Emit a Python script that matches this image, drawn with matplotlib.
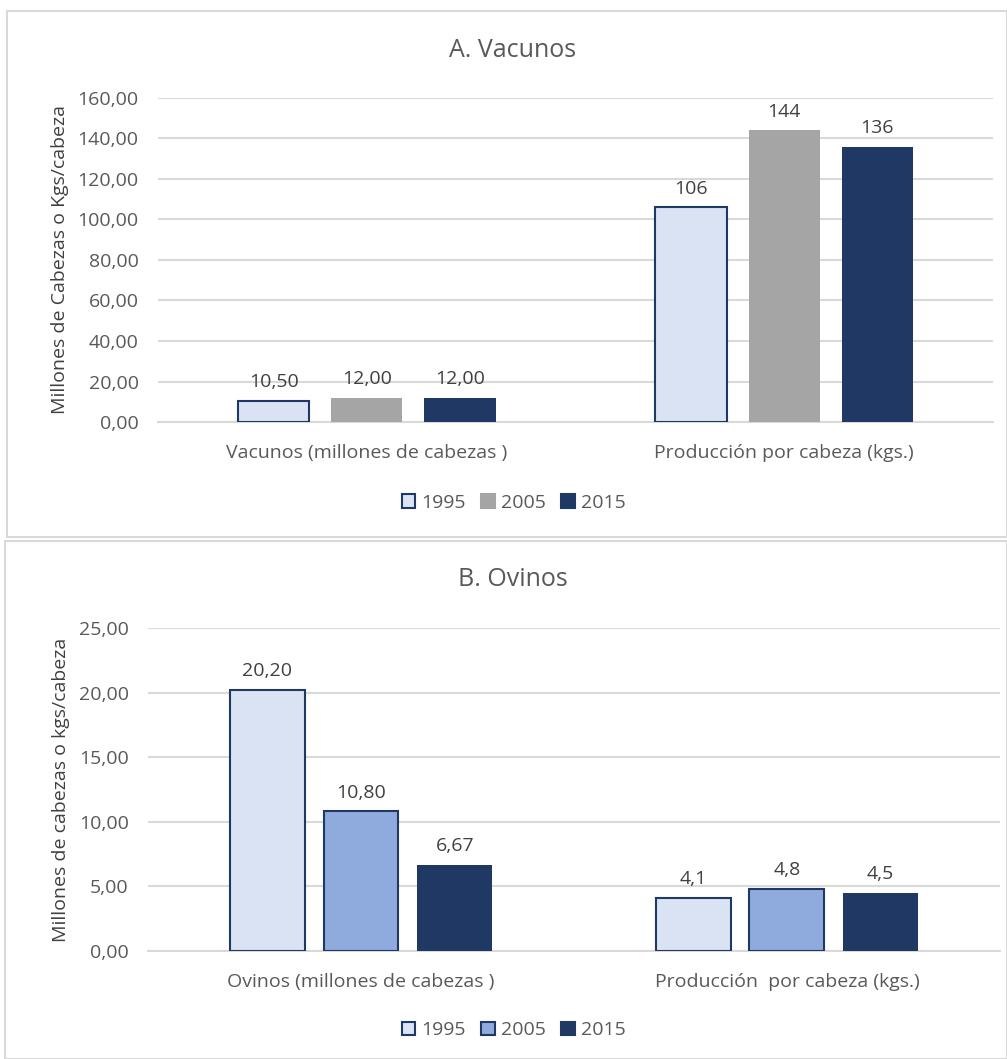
import matplotlib
matplotlib.use("Agg")
import matplotlib.pyplot as plt
from matplotlib.patches import Rectangle, Patch
import numpy as np

plt.rcParams['font.family'] = ['Open Sans', 'DejaVu Sans']

years = ['1995', '2005', '2015']

# Panel A - vacunos
cats_a = ['Vacunos (millones de cabezas )', 'Producción por cabeza (kgs.)']
vac_1995 = [10.50, 106]
vac_2005 = [12.00, 144]
vac_2015 = [12.00, 136]
ticks_a = [0, 20, 40, 60, 80, 100, 120, 140, 160]

# Panel B - ovinos
cats_b = ['Ovinos (millones de cabezas )', 'Producción  por cabeza (kgs.)']
ovi_1995 = [20.20, 4.1]
ovi_2005 = [10.80, 4.8]
ovi_2015 = [6.67, 4.5]
ticks_b = [0, 5, 10, 15, 20, 25]

# label formats per category group
fmt_a = ['{:.2f}', '{:.0f}']
fmt_b = ['{:.2f}', '{:.1f}']

edge = '#1F3864'
light = '#DAE3F3'
navy = '#203864'
grey = '#A5A5A5'
midblue = '#8FAADC'
txt = '#595959'
grid = '#D9D9D9'
FS = 14


def to_es(s):
    return s.replace('.', ',')


def draw_panel(ax, cats, series, colors, edges, fmts, ticks, width, step, ylabel):
    x = np.arange(len(cats))
    for i, (vals, c, ec) in enumerate(zip(series, colors, edges)):
        pos = x + (i - 1) * step
        bars = ax.bar(pos, vals, width, color=c, edgecolor=ec,
                      linewidth=1.5 if ec != c else 0, zorder=3)
        for j, (b, v) in enumerate(zip(bars, vals)):
            ax.annotate(to_es(fmts[j].format(v)),
                        (b.get_x() + b.get_width() / 2, v),
                        xytext=(0, 7), textcoords='offset points',
                        ha='center', va='bottom', fontsize=FS, color='#404040')
    ax.set_xlim(-0.5, len(cats) - 0.5)
    ax.set_ylim(0, ticks[-1])
    ax.set_yticks(ticks)
    ax.set_yticklabels([to_es('{:.2f}'.format(t)) for t in ticks])
    ax.set_xticks(x)
    ax.set_xticklabels(cats)
    ax.tick_params(axis='both', length=0, labelsize=FS, labelcolor=txt)
    ax.tick_params(axis='x', pad=16)
    ax.tick_params(axis='y', pad=14)
    for s in ['top', 'right', 'left']:
        ax.spines[s].set_visible(False)
    ax.spines['bottom'].set_color(grid)
    ax.spines['bottom'].set_linewidth(1.5)
    ax.yaxis.grid(True, color=grid, linewidth=1.5, zorder=0)
    ax.set_axisbelow(True)
    ax.set_ylabel(ylabel, fontsize=FS, color='#404040', labelpad=6)


fig = plt.figure(figsize=(10.07, 10.59), dpi=100)

# panel borders
fig.patches.append(Rectangle((0.007, 0.493), 0.993, 0.497, transform=fig.transFigure,
                             fill=False, edgecolor='#D9D9D9', linewidth=1.5))
fig.patches.append(Rectangle((0.005, 0.0), 0.995, 0.489, transform=fig.transFigure,
                             fill=False, edgecolor='#D9D9D9', linewidth=1.5))

# Panel A
ax1 = fig.add_axes([0.157, 0.6015, 0.829, 0.306])
colors_a = [light, grey, navy]
edges_a = [edge, grey, navy]
draw_panel(ax1, cats_a, [vac_1995, vac_2005, vac_2015], colors_a, edges_a, fmt_a,
           ticks_a, 0.171, 0.223, 'Millones de Cabezas o Kgs/cabeza')
fig.text(0.509, 0.952, 'A. Vacunos', ha='center', va='center', fontsize=18, color=txt)
handles_a = [Patch(facecolor=c, edgecolor=e, linewidth=1.5) for c, e in zip(colors_a, edges_a)]
fig.legend(handles_a, years, loc='center', bbox_to_anchor=(0.51, 0.525), ncol=3,
           frameon=False, fontsize=FS, labelcolor=txt, handlelength=0.7,
           handleheight=0.7, handletextpad=0.3, columnspacing=0.8)

# Panel B
ax2 = fig.add_axes([0.147, 0.102, 0.846, 0.305])
colors_b = [light, midblue, navy]
edges_b = [edge, edge, navy]
draw_panel(ax2, cats_b, [ovi_1995, ovi_2005, ovi_2015], colors_b, edges_b, fmt_b,
           ticks_b, 0.176, 0.22, 'Millones de cabezas o kgs/cabeza')
fig.text(0.509, 0.453, 'B. Ovinos', ha='center', va='center', fontsize=18, color=txt)
handles_b = [Patch(facecolor=c, edgecolor=e, linewidth=1.5) for c, e in zip(colors_b, edges_b)]
fig.legend(handles_b, years, loc='center', bbox_to_anchor=(0.51, 0.027), ncol=3,
           frameon=False, fontsize=FS, labelcolor=txt, handlelength=0.7,
           handleheight=0.7, handletextpad=0.3, columnspacing=0.8)

fig.savefig('out.png', dpi=100, facecolor='white')
